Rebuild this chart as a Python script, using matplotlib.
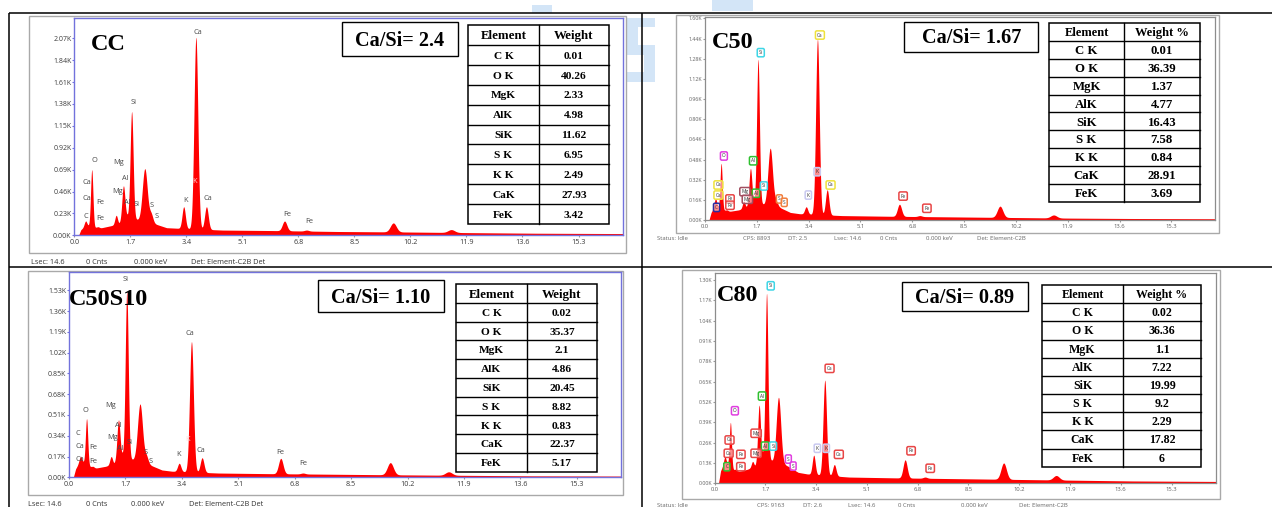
import numpy as np
import matplotlib
matplotlib.use("Agg")
import matplotlib.pyplot as plt
from matplotlib.patches import Rectangle

W, H = 1272, 507
fig = plt.figure(figsize=(W / 100, H / 100), dpi=100)

# ---------------- spectral lines (keV) and peak widths ----------------
line_names = ["CaL", "O", "FeL", "Mg", "Al", "Si", "AuM", "S", "K", "Ca", "CaKb",
              "Ti", "Fe", "FeKb", "AuLa", "AuLb"]
line_energy = [0.34, 0.53, 0.71, 1.27, 1.49, 1.74, 2.14, 2.33, 3.32, 3.69, 4.01,
               4.51, 6.38, 7.05, 9.68, 11.44]
line_sigma = [0.04, 0.035, 0.045, 0.04, 0.045, 0.045, 0.075, 0.055, 0.05, 0.058, 0.055,
              0.055, 0.068, 0.065, 0.09, 0.10]

# peak tops (kilo-counts) per sample, same order as line_names
cc_peaks = [0.15, 0.69, 0.09, 0.21, 0.52, 1.30, 0.70, 0.22, 0.30, 2.08, 0.30,
            0.0, 0.15, 0.055, 0.13, 0.06]
c50_peaks = [0.17, 0.45, 0.08, 0.15, 0.41, 1.275, 0.57, 0.15, 0.105, 1.435, 0.24,
             0.0, 0.125, 0.035, 0.11, 0.04]
c50s10_peaks = [0.17, 0.48, 0.09, 0.17, 0.47, 1.52, 0.60, 0.17, 0.115, 1.11, 0.16,
                0.0, 0.155, 0.035, 0.12, 0.045]
c80_peaks = [0.17, 0.39, 0.09, 0.14, 0.50, 1.215, 0.55, 0.12, 0.18, 0.66, 0.12,
             0.04, 0.15, 0.04, 0.13, 0.05]

# continuum (energy keV, kilo-counts)
bg_energy = [0.13, 0.2, 0.35, 0.45, 0.7, 1.1, 1.35, 1.6, 1.95, 2.45, 2.8, 3.1,
             4.5, 6.0, 8.0, 10.0, 12.0, 14.0, 16.8]
cc_bg = [0, 0.06, 0.1, 0.1, 0.07, 0.1, 0.12, 0.2, 0.16, 0.12, 0.08, 0.075,
         0.055, 0.05, 0.04, 0.035, 0.028, 0.022, 0.018]
c50_bg = [0, 0.06, 0.12, 0.1, 0.065, 0.08, 0.1, 0.16, 0.12, 0.1, 0.06, 0.05,
          0.035, 0.03, 0.025, 0.02, 0.015, 0.012, 0.01]
c50s10_bg = [0, 0.07, 0.14, 0.12, 0.07, 0.09, 0.11, 0.18, 0.14, 0.1, 0.06, 0.05,
             0.035, 0.03, 0.025, 0.02, 0.016, 0.012, 0.01]
c80_bg = [0, 0.08, 0.14, 0.12, 0.07, 0.09, 0.11, 0.18, 0.14, 0.11, 0.07, 0.06,
          0.04, 0.035, 0.03, 0.025, 0.02, 0.015, 0.012]

# element tables (weight %)
elements = ["C K", "O K", "MgK", "AlK", "SiK", "S K", "K K", "CaK", "FeK"]
cc_weight = ["0.01", "40.26", "2.33", "4.98", "11.62", "6.95", "2.49", "27.93", "3.42"]
c50_weight = ["0.01", "36.39", "1.37", "4.77", "16.43", "7.58", "0.84", "28.91", "3.69"]
c50s10_weight = ["0.02", "35.37", "2.1", "4.86", "20.45", "8.82", "0.83", "22.37", "5.17"]
c80_weight = ["0.02", "36.36", "1.1", "7.22", "19.99", "9.2", "2.29", "17.82", "6"]

ca_si = ["2.4", "1.67", "1.10", "0.89"]
sample_names = ["CC", "C50", "C50S10", "C80"]

# peak markers: (text, energy keV, kilo-counts)
cc_marks = [("Ca", 3.76, 2.13), ("Si", 1.81, 1.39), ("O", 0.60, 0.79), ("Mg", 1.36, 0.76),
            ("Ca", 0.385, 0.55), ("Al", 1.55, 0.60), ("Mg", 1.31, 0.46), ("K", 3.66, 0.56),
            ("Ca", 0.385, 0.39), ("Fe", 0.78, 0.34), ("Al", 1.61, 0.34), ("Si", 1.89, 0.32),
            ("S", 2.35, 0.31), ("K", 3.38, 0.37), ("Ca", 4.06, 0.39), ("C", 0.35, 0.195),
            ("Fe", 0.78, 0.18), ("S", 2.51, 0.20), ("Fe", 6.46, 0.22), ("Fe", 7.12, 0.14)]
c50s10_marks = [("Si", 1.71, 1.615), ("Ca", 3.64, 1.18), ("O", 0.50, 0.55), ("Mg", 1.24, 0.586),
                ("C", 0.26, 0.36), ("Al", 1.49, 0.42), ("Mg", 1.30, 0.324), ("Si", 1.83, 0.286),
                ("Ca", 0.32, 0.25), ("Fe", 0.72, 0.242), ("Al", 1.55, 0.237), ("K", 3.58, 0.313),
                ("Ca", 3.98, 0.223), ("S", 2.31, 0.205), ("K", 3.31, 0.188), ("Fe", 6.37, 0.205),
                ("Ca", 0.32, 0.142), ("Fe", 0.72, 0.128), ("S", 2.45, 0.128), ("Fe", 7.05, 0.109)]
c50_marks = [("Ca", 3.77, 1.468), ("Si", 1.83, 1.328), ("O", 0.62, 0.508), ("Al", 1.58, 0.47),
             ("K", 3.68, 0.383), ("Ca", 4.12, 0.278), ("Ca", 0.44, 0.278), ("Ca", 0.44, 0.198),
             ("Mg", 1.31, 0.225), ("Al", 1.67, 0.212), ("Si", 1.93, 0.27), ("Mg", 1.39, 0.164),
             ("Fe", 0.82, 0.167), ("Fe", 0.82, 0.117), ("C", 0.38, 0.10), ("S", 2.44, 0.167),
             ("S", 2.60, 0.14), ("K", 3.39, 0.198), ("Fe", 6.50, 0.19), ("Fe", 7.28, 0.093)]
c80_marks = [("Si", 1.88, 1.263), ("Ca", 3.85, 0.735), ("Al", 1.59, 0.558), ("O", 0.68, 0.464),
             ("Mg", 1.39, 0.32), ("Al", 1.69, 0.238), ("Si", 1.96, 0.238), ("Ca", 0.50, 0.277),
             ("Ca", 0.47, 0.192), ("Fe", 0.88, 0.185), ("Mg", 1.39, 0.192), ("K", 3.44, 0.224),
             ("K", 3.74, 0.224), ("Ca", 4.16, 0.185), ("S", 2.47, 0.155), ("S", 2.63, 0.11),
             ("C", 0.41, 0.106), ("Fe", 0.88, 0.106), ("Fe", 6.58, 0.208), ("Fe", 7.22, 0.096)]

c50_box_colors = {"Ca": "#efe23c", "Si": "#3fd6e6", "O": "#e03ee0", "Al": "#2fc02f",
                  "Mg": "#a24e60", "Fe": "#e84646", "S": "#f08040", "K": "#c9c9f0", "C": "#2a2aa0"}
c80_box_colors = {"Ca": "#e84646", "Si": "#3fd6e6", "O": "#e03ee0", "Al": "#2fc02f",
                  "Mg": "#e84646", "Fe": "#e84646", "S": "#e03ee0", "K": "#c9c9f0", "C": "#2fc02f"}

x_ticks = [0.0, 1.7, 3.4, 5.1, 6.8, 8.5, 10.2, 11.9, 13.6, 15.3]

SERIF = "Liberation Serif"
SANS = "Open Sans"


def px_axes(l, t, r, b, z):
    return fig.add_axes([l / W, 1 - b / H, (r - l) / W, (b - t) / H], zorder=z)


under = px_axes(0, 0, W, H, 0)
under.set_xlim(0, W)
under.set_ylim(H, 0)
under.axis("off")
over = px_axes(0, 0, W, H, 20)
over.set_xlim(0, W)
over.set_ylim(H, 0)
over.axis("off")

# faint page watermark behind the panels
wm = "#d3e5f7"
for (x0, y0, x1, y1) in [(627, 18, 655, 27), (627, 27, 638, 53), (627, 45, 655, 55),
                         (644, 53, 655, 77), (627, 72, 655, 82), (532, 5, 552, 13),
                         (712, 0, 753, 11)]:
    under.add_patch(Rectangle((x0, y0), x1 - x0, y1 - y0, color=wm, lw=0, zorder=0))

# page grid lines
for (x0, y0, x1, y1) in [(9.3, 13.3, W, 13.3), (9.3, 267.3, W, 267.3),
                         (9.3, 13.3, 9.3, H), (642.3, 13.3, 642.3, H)]:
    over.plot([x0, x1], [y0, y1], color="black", lw=1.1, solid_capstyle="butt")


def spectrum(E, peaks, bg):
    base = np.interp(E, bg_energy, bg)
    y = base.copy()
    for e, s, top in zip(line_energy, line_sigma, peaks):
        amp = max(top - np.interp(e, bg_energy, bg), 0.0)
        y += amp * np.exp(-0.5 * ((E - e) / s) ** 2)
    return y


panels = [
    dict(frame=(28.5, 15.7, 625.7, 252.7), axes=(74.3, 17.7, 623, 235.3), xmax=16.65, ymax=2.286,
         ystep=0.23, peaks=cc_peaks, bg=cc_bg, marks=cc_marks, boxes=None, style="blue",
         name_pos=(90.6, 49.7), ratio_box=(342, 22, 458, 56),
         table=(468, 539, 609, 25, 224), head2="Weight", tfs=(9.3, 8.2),
         status_y=262, status=[("Lsec: 14.6", 31), ("0 Cnts", 86.5), ("0.000 keV", 133.5),
                               ("Det: Element-C2B Det", 190.6)], weights=cc_weight),
    dict(frame=(675.5, 15, 1218.6, 233), axes=(705, 16.5, 1214.6, 220), xmax=16.72, ymax=1.615,
         ystep=0.16, peaks=c50_peaks, bg=c50_bg, marks=c50_marks, boxes=c50_box_colors, style="gray",
         name_pos=(711.8, 48), ratio_box=(904, 21.7, 1038.4, 51.7),
         table=(1049.3, 1123.9, 1199.7, 23.3, 201.7), head2="Weight %", tfs=(9.0, 9.2),
         status_y=239, status=[("Status: Idle", 657), ("CPS: 8893", 742.8), ("DT: 2.5", 788.4),
                               ("Lsec: 14.6", 834.4), ("0 Cnts", 880), ("0.000 keV", 926.3),
                               ("Det: Element-C2B", 976.7)], weights=c50_weight),
    dict(frame=(27.8, 270.7, 623, 495), axes=(69, 272.3, 621, 477.3), xmax=16.63, ymax=1.677,
         ystep=0.17, peaks=c50s10_peaks, bg=c50s10_bg, marks=c50s10_marks, boxes=None, style="blue",
         name_pos=(69, 304.7), ratio_box=(318, 280, 444, 311.7),
         table=(456, 527, 597, 284, 471.7), head2="Weight", tfs=(9.3, 8.2),
         status_y=504.3, status=[("Lsec: 14.6", 28), ("0 Cnts", 85.7), ("0.000 keV", 131.4),
                                 ("Det: Element-C2B Det", 189)], weights=c50s10_weight),
    dict(frame=(682.3, 270, 1220, 499.3), axes=(714.6, 273, 1215.7, 483.3), xmax=16.78, ymax=1.345,
         ystep=0.13, peaks=c80_peaks, bg=c80_bg, marks=c80_marks, boxes=c80_box_colors, style="gray",
         name_pos=(716.6, 301.3), ratio_box=(902, 282.3, 1027.9, 311),
         table=(1042.4, 1122.7, 1201.3, 285, 466.7), head2="Weight %", tfs=(8.6, 8.6),
         status_y=505.7, status=[("Status: Idle", 657), ("CPS: 9163", 757), ("DT: 2.6", 803.3),
                                 ("Lsec: 14.6", 847.7), ("0 Cnts", 898), ("0.000 keV", 960.6),
                                 ("Det: Element-C2B", 1019)], weights=c80_weight),
]

for i, p in enumerate(panels):
    fl, ft, fr, fb = p["frame"]
    under.add_patch(Rectangle((fl, ft), fr - fl, fb - ft, facecolor="white",
                              edgecolor="#a9a9a9", lw=1.0, zorder=1))
    l, t, r, b = p["axes"]
    ax = px_axes(l, t, r, b, 5)
    E = np.linspace(0, p["xmax"], 4000)
    y = spectrum(E, p["peaks"], p["bg"])
    ax.fill_between(E, 0, y, color="#ff0000", lw=0, zorder=2)
    ax.set_xlim(0, p["xmax"])
    ax.set_ylim(0, p["ymax"])
    nt = int(round(p["ymax"] / p["ystep"] + 0.3))
    yt = [k * p["ystep"] for k in range(nt + 1) if k * p["ystep"] <= p["ymax"] + 0.01]
    ax.set_yticks(yt)
    ax.set_yticklabels([f"{v:.2f}K" for v in yt])
    ax.set_xticks(x_ticks)
    ax.set_xticklabels([f"{v:.1f}" for v in x_ticks])
    if p["style"] == "blue":
        for s in ax.spines.values():
            s.set_color("#7272dc")
            s.set_linewidth(1.0)
        ax.tick_params(axis="y", length=1.5, pad=0.5, labelsize=5.0, colors="#3c3c3c",
                       color="#7272dc")
        ax.tick_params(axis="x", length=1.5, pad=1.5, labelsize=5.2, colors="#3c3c3c",
                       color="#999999")
        for lab in ax.get_xticklabels() + ax.get_yticklabels():
            lab.set_family(SANS)
        for txt, e, k in p["marks"]:
            on_peak = (txt == "K" and abs(e - 3.62) < 0.1)
            ax.text(e, k, txt, fontsize=5.3, family=SANS, ha="center", va="center",
                    color="#ffd6d6" if on_peak else "#4a4a4a", zorder=4, clip_on=False)
    else:
        for s in ax.spines.values():
            s.set_color("#8c8c8c")
            s.set_linewidth(0.9)
        ax.tick_params(axis="y", length=1.2, pad=0.5, labelsize=3.8, colors="#606060",
                       color="#999999")
        ax.tick_params(axis="x", length=1.2, pad=1.5, labelsize=4.2, colors="#606060",
                       color="#999999")
        for lab in ax.get_xticklabels() + ax.get_yticklabels():
            lab.set_family(SANS)
        for txt, e, k in p["marks"]:
            ax.text(e, k, txt, fontsize=3.4, family=SANS, ha="center", va="center",
                    color="#303030", zorder=4, clip_on=False,
                    bbox=dict(boxstyle="round,pad=0.35,rounding_size=0.3",
                              facecolor=(1, 1, 1, 0.55),
                              edgecolor=p["boxes"][txt], lw=1.1))

    # sample name
    nx, ny = p["name_pos"]
    over.text(nx, ny, sample_names[i], family=SERIF, weight="bold", fontsize=17.5,
              ha="left", va="baseline", color="black", zorder=30)

    # Ca/Si ratio box
    bl, bt, br, bb = p["ratio_box"]
    over.add_patch(Rectangle((bl, bt), br - bl, bb - bt, facecolor="white",
                             edgecolor="black", lw=1.0, zorder=25))
    cap = 14.6 * 1.389 * 0.662
    over.text((bl + br) / 2, (bt + bb) / 2 + cap / 2, f"Ca/Si= {ca_si[i]}", family=SERIF,
              weight="bold", fontsize=14.6, ha="center", va="baseline", zorder=30)

    # element table
    x0, xd, x1, y0, y1 = p["table"]
    over.add_patch(Rectangle((x0, y0), x1 - x0, y1 - y0, facecolor="white",
                             edgecolor="black", lw=1.1, zorder=25))
    nrow = len(elements) + 1
    rh = (y1 - y0) / nrow
    for k in range(1, nrow):
        over.plot([x0, x1], [y0 + k * rh, y0 + k * rh], color="black", lw=1.0, zorder=26)
    over.plot([xd, xd], [y0, y1], color="black", lw=1.0, zorder=26)
    hfs, vfs = p["tfs"]
    hcap = hfs * 1.389 * 0.662
    vcap = vfs * 1.389 * 0.662
    over.text((x0 + xd) / 2, y0 + rh / 2 + hcap / 2, "Element", family=SERIF, weight="bold",
              fontsize=hfs, ha="center", va="baseline", zorder=30)
    over.text((xd + x1) / 2, y0 + rh / 2 + hcap / 2, p["head2"], family=SERIF, weight="bold",
              fontsize=hfs, ha="center", va="baseline", zorder=30)
    for k, (el, wv) in enumerate(zip(elements, p["weights"])):
        yc = y0 + (k + 1.5) * rh + vcap / 2
        over.text((x0 + xd) / 2, yc, el, family=SERIF, weight="bold", fontsize=vfs,
                  ha="center", va="baseline", zorder=30)
        over.text((xd + x1) / 2, yc, wv, family=SERIF, weight="bold", fontsize=vfs,
                  ha="center", va="baseline", zorder=30)

    # status line under the spectrum
    sfs = 5.3 if p["style"] == "blue" else 4.3
    scol = "#333333" if p["style"] == "blue" else "#666666"
    for txt, sx in p["status"]:
        over.text(sx, p["status_y"], txt, family=SANS, fontsize=sfs, color=scol,
                  ha="left", va="center", zorder=30)

fig.savefig("out.png", dpi=100)
